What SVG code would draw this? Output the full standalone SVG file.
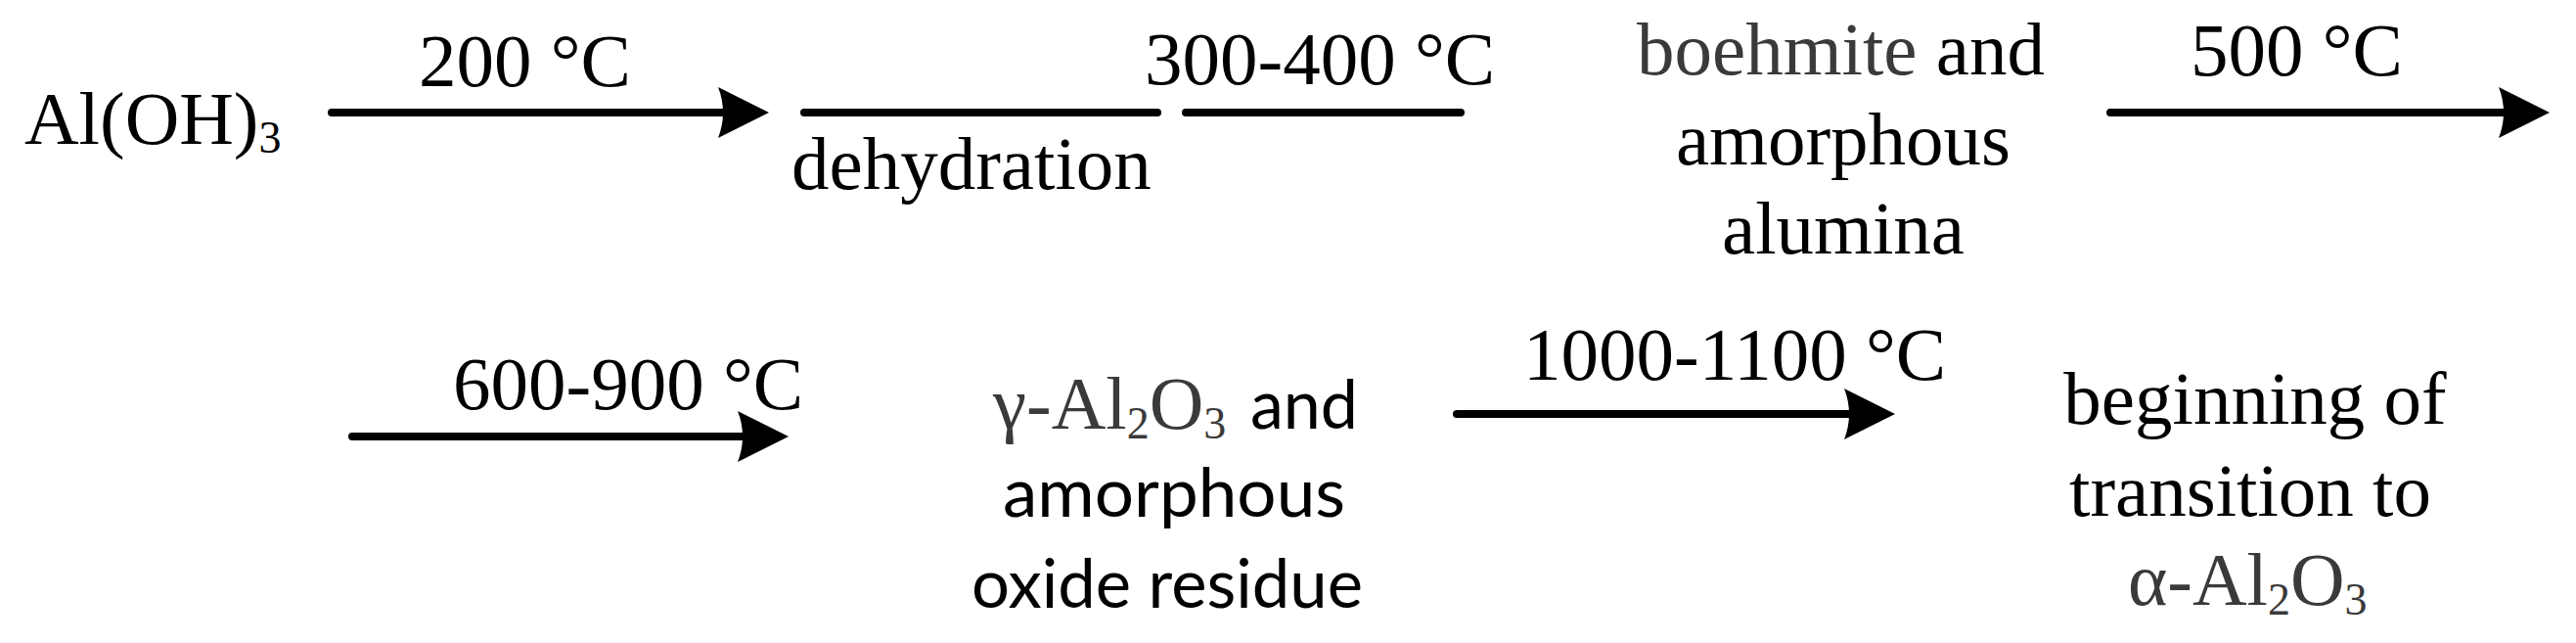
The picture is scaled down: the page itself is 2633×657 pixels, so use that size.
<svg xmlns="http://www.w3.org/2000/svg" width="2633" height="657" viewBox="0 0 2633 657">
<style>
.serif{font-family:"Liberation Serif","Times New Roman",serif;font-size:77px;fill:#000}
.gray{fill:#3a3a3a}
.sans{font-family:Lato,"Open Sans","Liberation Sans",sans-serif;font-size:70px;fill:#000}
.sub{font-size:46px}
.conn{stroke:#000;stroke-width:8;stroke-linecap:round;fill:none}
</style>
<defs>
<marker id="head" viewBox="0 0 52 52" refX="12" refY="26" markerWidth="52" markerHeight="52" markerUnits="userSpaceOnUse" orient="auto">
<path d="M0,0 L52,26 L0,52 Q10,26 0,0 Z" fill="#000"/>
</marker>
</defs>
<rect width="2633" height="657" fill="#fff"/>
<g id="connectors">
<line class="conn" x1="339" y1="115" x2="746" y2="115" marker-end="url(#head)"/>
<line class="conn" x1="822" y1="115" x2="1183" y2="115"/>
<line class="conn" x1="1212" y1="115" x2="1493" y2="115"/>
<line class="conn" x1="2157" y1="115" x2="2566" y2="115" marker-end="url(#head)"/>
<line class="conn" x1="360" y1="446" x2="766" y2="446" marker-end="url(#head)"/>
<line class="conn" x1="1489" y1="423" x2="1897" y2="423" marker-end="url(#head)"/>
</g>
<g id="labels">
<text class="serif" x="428" y="88">200 °C</text>
<text class="serif" x="809" y="193">dehydration</text>
<text class="serif" x="1170" y="86">300-400 °C</text>
<text class="serif" x="2239" y="77">500 °C</text>
<text class="serif" x="463" y="418">600-900 °C</text>
<text class="serif" x="1557" y="388">1000-1100 °C</text>
</g>
<g id="node-aloh3">
<text class="serif" x="25" y="147">Al(OH)<tspan class="sub" dy="9">3</tspan></text>
</g>
<g id="node-boehmite">
<text class="serif" x="1673" y="76"><tspan class="gray">boehmite</tspan> and</text>
<text class="serif" x="1884" y="168" text-anchor="middle">amorphous</text>
<text class="serif" x="1884" y="259" text-anchor="middle">alumina</text>
</g>
<g id="node-gamma">
<text class="serif gray" x="1015" y="438">γ-Al<tspan class="sub" dy="10">2</tspan><tspan dy="-10">O</tspan><tspan class="sub" dy="10">3</tspan></text>
<text class="sans" x="1278" y="438" textLength="110" lengthAdjust="spacingAndGlyphs">and</text>
<text class="sans" x="1025" y="528" textLength="350" lengthAdjust="spacingAndGlyphs">amorphous</text>
<text class="sans" x="993" y="621" textLength="400" lengthAdjust="spacingAndGlyphs">oxide residue</text>
</g>
<g id="node-alpha">
<text class="serif" x="2305" y="433" text-anchor="middle">beginning of</text>
<text class="serif" x="2300" y="527" text-anchor="middle">transition to</text>
<text class="serif gray" x="2175" y="618">α-Al<tspan class="sub" dy="10">2</tspan><tspan dy="-10">O</tspan><tspan class="sub" dy="10">3</tspan></text>
</g>
</svg>
